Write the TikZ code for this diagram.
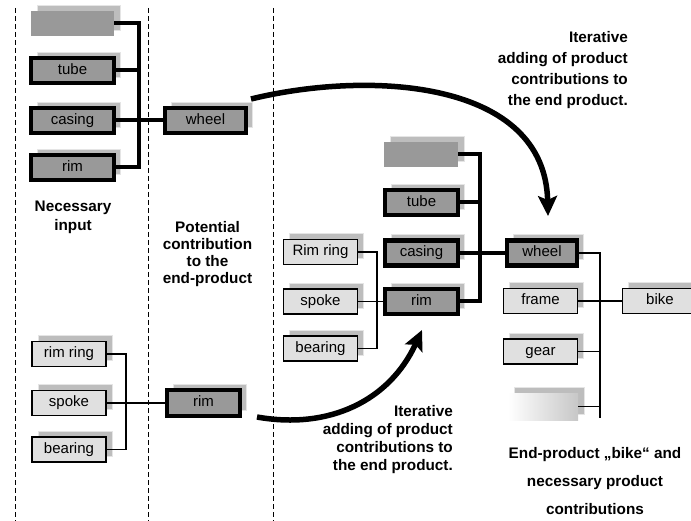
\documentclass[tikz,border=0pt]{standalone}
\usepackage{fontspec}
\setmainfont{Liberation Sans}
\usetikzlibrary{arrows.meta,shadows}

\tikzset{
  box/.style={minimum height=25pt, text height=10.5pt, text depth=3pt,
    font=\fontsize{15}{17}\selectfont, inner sep=0pt,
    general shadow={fill=black!26, draw=black!10, line width=.8pt,
      shadow xshift=6pt, shadow yshift=6pt}},
  darkbox/.style={box, draw, line width=4.4pt, fill=black!40, minimum width=#1},
  darkbox/.default=73pt,
  lightbox/.style={box, draw, line width=1.2pt, fill=black!12, minimum width=#1},
  lightbox/.default=74pt,
  blankbox/.style={box, fill=black!40, minimum width=#1},
  blankbox/.default=74pt,
  gradbox/.style={box, left color=white, right color=black!22, minimum width=70pt, minimum height=27pt},
  bus/.style={line width=4pt},
  wire/.style={line width=1.2pt},
  flow/.style={line width=5.5pt, -{Stealth[length=20pt, width=19pt, inset=4pt]}},
  sep/.style={line width=.8pt, dash pattern=on 5pt off 3pt},
  lbl/.style={font=\bfseries\fontsize{15.3}{#1}\selectfont, inner sep=0pt},
  lbl/.default=18
}

\begin{document}
\begin{tikzpicture}[x=1pt,y=-1pt]
	\useasboundingbox (0,0) rectangle (691,521);
	\foreach \sx in {15,148,273}
		\draw[sep] (\sx,8) -- (\sx,521);

	% necessary input
	\node[blankbox=83pt] (blankL) at (72.5,23.5) {};
	\node[darkbox=83pt] (tubeL) at (72.5,70.5) {tube};
	\node[darkbox=83pt] (casingL) at (72.5,120.5) {casing};
	\node[darkbox=83pt] (rimL) at (72.5,167.5) {rim};
	\node[darkbox=81pt] (wheelL) at (205.5,120.5) {wheel};
	\coordinate (busL) at (139,120.5);
	\draw[bus] (blankL.east) -| (busL) |- (rimL.east);
	\draw[bus] (tubeL.east) -- (tubeL.east -| busL);
	\draw[bus] (casingL.east) -- (wheelL.west);

	\node[lbl=19, align=center] (needLbl) at (73,217.5) {Necessary\\input};
	\node[lbl=17, align=center] (potLbl) at (207.5,254) {Potential\\contribution\\to the\\end-product};

	% rim from its parts
	\node[lightbox] (rimringL) at (69,354) {rim ring};
	\node[lightbox] (spokeL) at (69,403) {spoke};
	\node[lightbox] (bearingL) at (69,449.5) {bearing};
	\node[darkbox=73pt, minimum height=26pt] (rimB) at (203.5,403) {rim};
	\coordinate (busB) at (126,403);
	\draw[wire] (rimringL.east) -| (busB) |- (bearingL.east);
	\draw[wire] (spokeL.east) -- (rimB.west);

	% end product
	\node[blankbox] (blankM) at (421,154.5) {};
	\node[darkbox] (tubeM) at (421.5,202.5) {tube};
	\node[darkbox] (casingM) at (421.5,253) {casing};
	\node[darkbox] (rimM) at (421.5,301.5) {rim};
	\node[darkbox=70pt] (wheelM) at (542,253) {wheel};
	\coordinate (busM) at (480,253);
	\draw[bus] (blankM.east) -| (busM) |- (rimM.east);
	\draw[bus] (tubeM.east) -- (tubeM.east -| busM);
	\draw[bus] (casingM.east) -- (wheelM.west);

	\node[lightbox] (rimringM) at (320.5,252) {Rim ring};
	\node[lightbox] (spokeM) at (320.5,301.5) {spoke};
	\node[lightbox] (bearingM) at (320.5,348.5) {bearing};
	\coordinate (busR) at (377,301.5);
	\draw[wire] (rimringM.east) -| (busR) |- (bearingM.east);
	\draw[wire] (spokeM.east) -- (rimM.west);

	\node[lightbox] (frameM) at (540.5,301) {frame};
	\node[lightbox=75pt] (bike) at (660,301) {bike};
	\node[lightbox] (gearM) at (540.5,351.5) {gear};
	\node[gradbox] (restM) at (543,406.5) {};
	\coordinate (busW) at (600,418);
	\draw[wire] (wheelM.east) -| (busW);
	\draw[wire] (frameM.east) -- (bike.west);
	\draw[wire] (gearM.east) -- (gearM.east -| busW);
	\draw[wire] (restM.east) -- (restM.east -| busW);

	% iterative adding
	\coordinate (wheelOut) at (251,99);
	\coordinate (wheelIn) at (548,216);
	\draw[flow] (wheelOut) .. controls (370,70) and (545,80) .. (wheelIn);
	\coordinate (rimOut) at (257,417);
	\coordinate (rimIn) at (422,330);
	\draw[flow] (rimOut) .. controls (330,430) and (390,400) .. (rimIn);

	\node[lbl=20.7, align=right, anchor=east] (iterTop) at (628,70) {Iterative\\adding of product\\contributions to\\the end product.};
	\node[lbl=18.3, align=right, anchor=east] (iterBot) at (453,439.5) {Iterative\\adding of product\\contributions to\\the end product.};
	\node[lbl=28, align=center] (endLbl) at (595,481) {End-product „bike“ and\\necessary product\\contributions};
\end{tikzpicture}
\end{document}
